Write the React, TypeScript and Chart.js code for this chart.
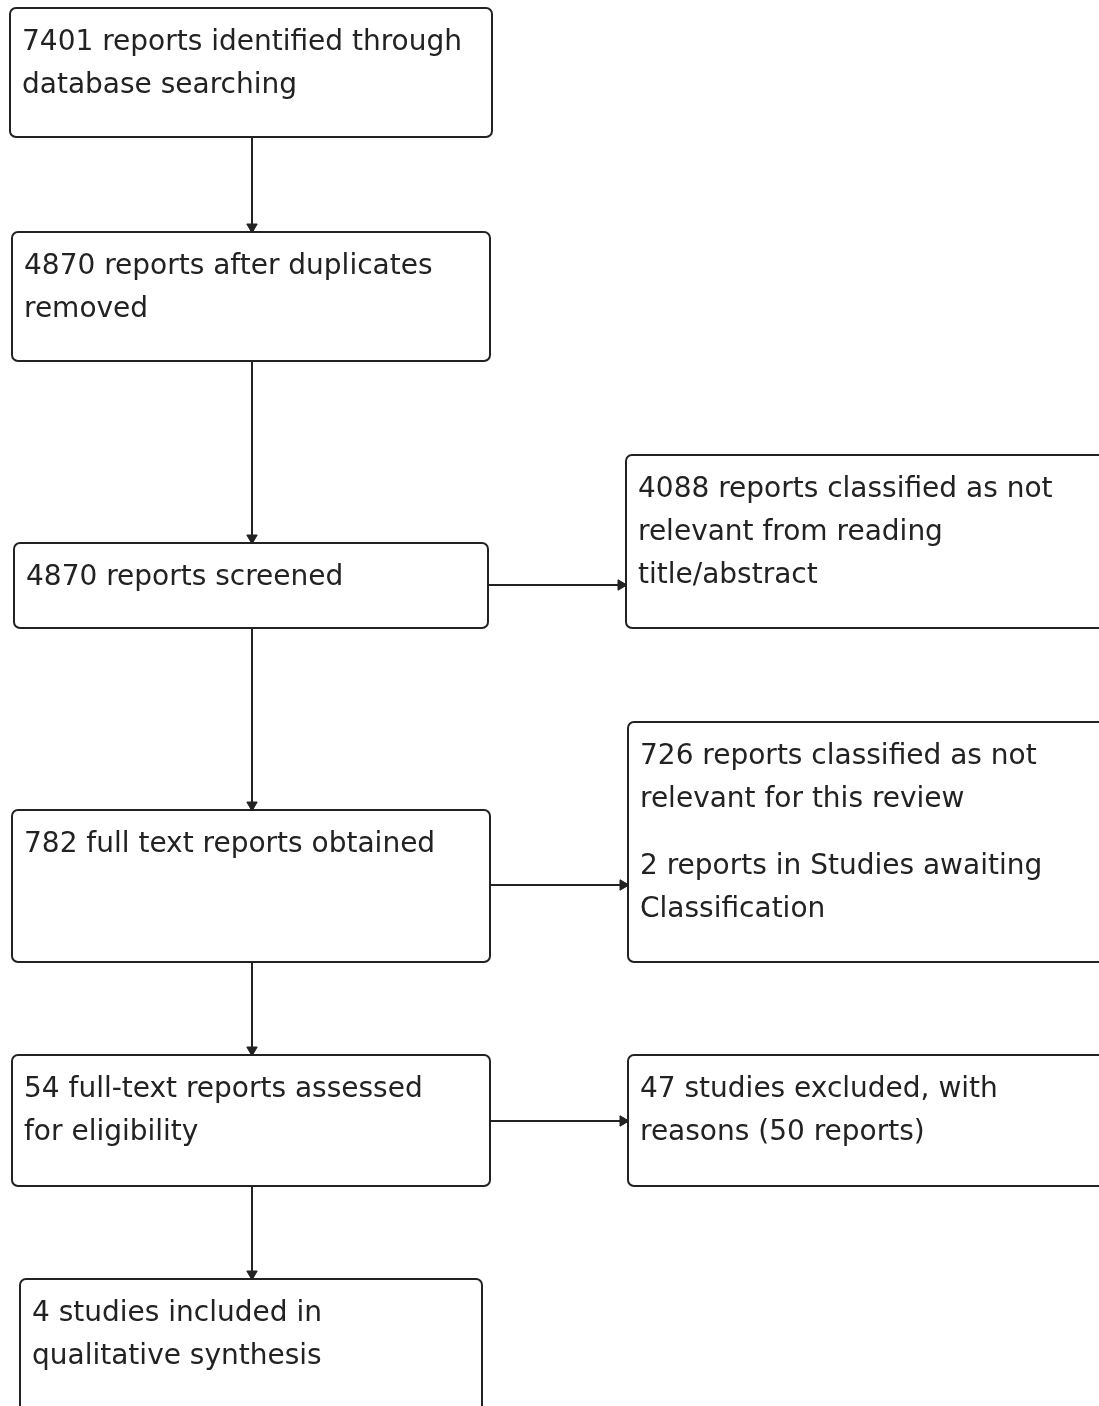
import React, { useEffect, useRef } from "react";
import { Chart, registerables } from "chart.js";

Chart.register(...registerables);

// ---- content ----
const boxTexts: string[][][] = [
  [["7401 reports identified through", "database searching"]],
  [["4870 reports after duplicates", "removed"]],
  [["4870 reports screened"]],
  [["782 full text reports obtained"]],
  [["54 full-text reports assessed", "for eligibility"]],
  [["4 studies included in", "qualitative synthesis"]],
  [["4088 reports classified as not", "relevant from reading", "title/abstract"]],
  [["726 reports classified as not", "relevant for this review"], ["2 reports in Studies awaiting", "Classification"]],
  [["47 studies excluded, with", "reasons (50 reports)"]],
];

// ---- layout (diagram units = pixels) ----
const boxLeft = [10, 12, 14, 12, 12, 20, 626, 628, 628];
const boxTop = [8, 232, 543, 810, 1055, 1279, 455, 722, 1055];
const boxRight = [492, 490, 488, 490, 490, 482, 1112, 1112, 1112];
const boxBottom = [137, 361, 628, 962, 1186, 1420, 628, 962, 1186];

// connectors: [fromBox, toBox, direction]
const links: [number, number, "down" | "right"][] = [
  [0, 1, "down"],
  [1, 2, "down"],
  [2, 3, "down"],
  [3, 4, "down"],
  [4, 5, "down"],
  [2, 6, "right"],
  [3, 7, "right"],
  [4, 8, "right"],
];
const trunkX = 252;
const sideY = [585, 885, 1121];

const W = 1099;
const H = 1406;
const LINE = "#222222";
const TEXT = "#222222";
const FONT = '28px "DejaVu Sans"';

export default function App() {
  const ref = useRef<HTMLCanvasElement | null>(null);
  useEffect(() => {
    if (!ref.current) return;
    let sideIdx = 0;
    const datasets: any[] = links.map(([a, b, dir]) => {
      let pts;
      if (dir === "down") {
        pts = [
          { x: trunkX, y: boxBottom[a] },
          { x: trunkX, y: boxTop[b] - 5 },
        ];
      } else {
        const y = sideY[sideIdx++];
        pts = [
          { x: boxRight[a], y },
          { x: boxLeft[b] - 5, y },
        ];
      }
      return {
        data: pts,
        showLine: true,
        borderColor: LINE,
        backgroundColor: LINE,
        borderWidth: 2,
        pointStyle: "triangle",
        pointRadius: [0, 6],
        pointBorderWidth: 1,
        pointRotation: dir === "down" ? 180 : 90,
      };
    });

    const boxPlugin = {
      id: "boxes",
      beforeDatasetsDraw(chart: any) {
        const { ctx, scales } = chart;
        const xs = scales.x;
        const ys = scales.y;
        ctx.save();
        ctx.fillStyle = "#ffffff";
        ctx.fillRect(0, 0, chart.width, chart.height);
        boxTexts.forEach((paras, i) => {
          const x0 = xs.getPixelForValue(boxLeft[i]);
          const x1 = xs.getPixelForValue(boxRight[i]);
          const y0 = ys.getPixelForValue(boxTop[i]);
          const y1 = ys.getPixelForValue(boxBottom[i]);
          ctx.beginPath();
          ctx.roundRect(x0, y0, x1 - x0, y1 - y0, 6);
          ctx.fillStyle = "#ffffff";
          ctx.fill();
          ctx.lineWidth = 2;
          ctx.strokeStyle = LINE;
          ctx.stroke();
          ctx.fillStyle = TEXT;
          ctx.font = FONT;
          ctx.textBaseline = "middle";
          ctx.textAlign = "left";
          let ty = y0 + 35;
          paras.forEach((lines, pi) => {
            if (pi > 0) ty += 24;
            lines.forEach((ln) => {
              ctx.fillText(ln, x0 + 12, ty);
              ty += 43;
            });
          });
        });
        ctx.restore();
      },
    };

    const chart = new Chart(ref.current, {
      type: "scatter",
      data: { datasets },
      options: {
        animation: false,
        responsive: false,
        devicePixelRatio: 1,
        layout: { padding: 0, autoPadding: false },
        plugins: { legend: { display: false }, tooltip: { enabled: false } },
        scales: {
          x: { type: "linear", min: 0, max: W, display: false },
          y: { type: "linear", min: 0, max: H, reverse: true, display: false },
        },
      },
      plugins: [boxPlugin],
    });
    return () => chart.destroy();
  }, []);

  return (
    <div style={{ position: "absolute", left: 0, top: 0, width: W, height: H, background: "#fff" }}>
      <canvas ref={ref} width={W} height={H} style={{ display: "block" }} />
    </div>
  );
}
